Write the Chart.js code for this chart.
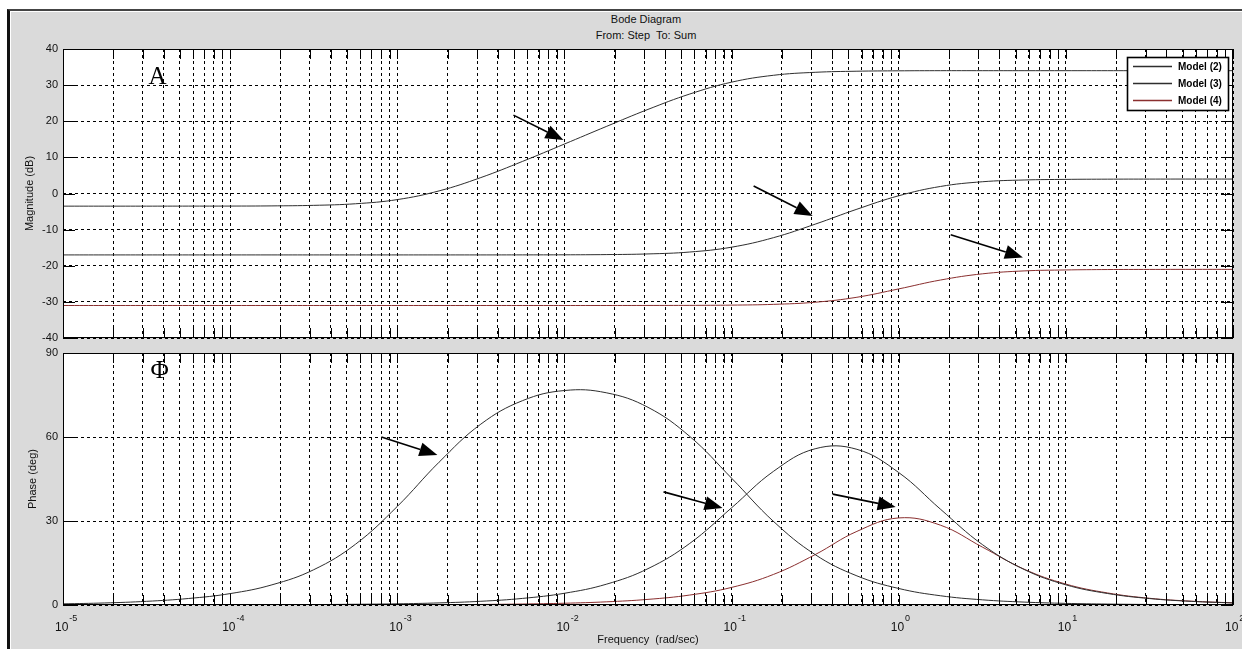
<!DOCTYPE html>
<html>
<head>
<meta charset="utf-8">
<script src="https://cdn.jsdelivr.net/npm/chart.js@4.4.1/dist/chart.umd.min.js"></script>
<style>
  html, body { margin: 0; padding: 0; background: #fff; }
  #wrap { position: relative; width: 1242px; height: 649px; overflow: hidden; }
  #frame { position: absolute; left: 7px; top: 9px; width: 1240px; height: 645px;
           background: #dadada; border-left: 3px solid #111; border-top: 2px solid #444;
           box-shadow: inset 1px 1px 0 #fff; }
  canvas { position: absolute; left: 0; top: 0; }
  .ttl { position: absolute; left: 546px; width: 200px; text-align: center;
         font: 11px "Liberation Sans", Arial, sans-serif; color: #111; }
</style>
</head>
<body>
<div id="wrap">
  <div id="frame"></div>
  <div class="ttl" style="top:13px">Bode Diagram</div>
  <div class="ttl" style="top:29px">From: Step&nbsp; To: Sum</div>
  <canvas id="magChart" width="1242" height="649"></canvas>
  <canvas id="phaseChart" width="1242" height="649"></canvas>
</div>
<script>
// frequency grid, as powers of ten (rad/sec)
const freqExp = [-5, -4.75, -4.5, -4.25, -4, -3.75, -3.5, -3.25, -3, -2.75, -2.5, -2.25, -2, -1.75, -1.5,
                 -1.25, -1, -0.75, -0.5, -0.25, 0, 0.25, 0.5, 0.75, 1, 1.25, 1.5, 1.75, 2];

const models = ['Model (2)', 'Model (3)', 'Model (4)'];

// magnitude (dB)
const mag2 = [-3.5, -3.5, -3.5, -3.49, -3.48, -3.43, -3.28, -2.84, -1.69, 0.72, 4.41, 8.9, 13.69, 18.54, 23.28,
              27.54, 30.82, 32.72, 33.55, 33.85, 33.96, 34, 34, 34, 34, 34, 34, 34, 34];
const mag3 = [-17, -17, -17, -17, -17, -17, -17, -17, -17, -17, -17, -16.99, -16.97, -16.91, -16.73,
              -16.2, -14.86, -12.24, -8.49, -4.35, -0.63, 1.95, 3.25, 3.74, 3.91, 3.97, 3.99, 4, 4];
const mag4 = [-31, -31, -31, -31, -31, -31, -31, -31, -31, -31, -31, -31, -31, -31, -30.99,
              -30.97, -30.9, -30.69, -30.1, -28.72, -26.41, -23.95, -22.24, -21.43, -21.16, -21.05, -21.02, -21, -21];

// phase (deg)
const phase2 = [0.41, 0.73, 1.31, 2.32, 4.07, 7.2, 12.6, 21.7, 35.2, 51.0, 64.6, 73.0, 76.6, 75.8, 70.6,
                60.2, 45.3, 29.9, 18.0, 10.4, 5.9, 3.3, 1.85, 1.04, 0.58, 0.33, 0.19, 0.1, 0.06];
const phase3 = [0, 0.01, 0.02, 0.03, 0.05, 0.08, 0.15, 0.26, 0.42, 0.75, 1.33, 2.36, 4.19, 7.41, 12.98,
                22.0, 34.7, 47.7, 55.8, 55.6, 47.3, 34.2, 21.6, 12.7, 7.2, 4.1, 2.3, 1.3, 0.73];
const phase4 = [0, 0, 0, 0.01, 0.01, 0.02, 0.03, 0.04, 0.06, 0.11, 0.2, 0.35, 0.63, 1.13, 2.01,
                3.56, 6.28, 10.9, 18.0, 26.3, 31.1, 28.5, 20.7, 12.8, 7.47, 4.3, 2.4, 1.37, 0.77];

const decades = [-5, -4, -3, -2, -1, 0, 1, 2];

// arrows: [from exp, from value, to exp, to value]
const magArrows = [[-2.305, 21.7, -2.006, 14.8], [-0.868, 2.1, -0.515, -6.2], [0.311, -11.4, 0.743, -17.7]];
const phaseArrows = [[-3.095, 60, -2.76, 53.6], [-1.407, 40.4, -1.054, 34.6], [-0.395, 39.6, -0.018, 35]];

const lineColors = ['#2e2e2e', '#2e2e2e', '#8a2f2f'];
const FONT = '"Liberation Sans", Arial, sans-serif';

function series(vals) {
  return freqExp.map((e, i) => ({ x: Math.pow(10, e), y: vals[i] }));
}

function makeSets(a, b, c) {
  return [a, b, c].map((v, i) => ({
    label: models[i], data: series(v), borderColor: lineColors[i], borderWidth: 1,
    pointRadius: 0, fill: false, tension: 0.4
  }));
}

function logTicks(scale) {
  const t = [];
  for (let k = -5; k < 2; k++) for (let m = 1; m < 10; m++) t.push({ value: m * Math.pow(10, k) });
  t.push({ value: 100 });
  scale.ticks = t;
}

function drawArrow(ctx, x0, y0, x1, y1) {
  const ang = Math.atan2(y1 - y0, x1 - x0), len = 18, hw = 7;
  const bx = x1 - len * Math.cos(ang), by = y1 - len * Math.sin(ang);
  ctx.strokeStyle = '#000'; ctx.fillStyle = '#000'; ctx.lineWidth = 1.6;
  ctx.beginPath(); ctx.moveTo(x0, y0); ctx.lineTo(bx, by); ctx.stroke();
  ctx.beginPath();
  ctx.moveTo(x1, y1);
  ctx.lineTo(bx + hw * Math.sin(ang), by - hw * Math.cos(ang));
  ctx.lineTo(bx - hw * Math.sin(ang), by + hw * Math.cos(ang));
  ctx.closePath(); ctx.fill();
}

const boxPlugin = {
  id: 'box',
  beforeDraw(chart) {
    const a = chart.chartArea, ctx = chart.ctx;
    ctx.save(); ctx.fillStyle = '#fff';
    ctx.fillRect(a.left, a.top, a.right - a.left, a.bottom - a.top);
    ctx.restore();
  },
  afterDraw(chart, args, opts) {
    const a = chart.chartArea, ctx = chart.ctx, xs = chart.scales.x, ys = chart.scales.y;
    ctx.save();
    ctx.strokeStyle = '#000'; ctx.lineWidth = 1;
    // inner tick marks
    ctx.beginPath();
    ys.ticks.forEach(t => {
      const y = Math.round(ys.getPixelForValue(t.value)) + 0.5;
      ctx.moveTo(a.left, y); ctx.lineTo(a.left + 12, y);
      ctx.moveTo(a.right, y); ctx.lineTo(a.right - 12, y);
    });
    xs.ticks.forEach(t => {
      const x = Math.round(xs.getPixelForValue(t.value)) + 0.5;
      ctx.moveTo(x, a.top); ctx.lineTo(x, a.top + 10);
      ctx.moveTo(x, a.bottom); ctx.lineTo(x, a.bottom - 10);
    });
    ctx.stroke();
    ctx.strokeRect(a.left + 0.5, a.top + 0.5, a.right - a.left - 1, a.bottom - a.top - 1);

    // arrows
    opts.arrows.forEach(r => drawArrow(ctx,
      xs.getPixelForValue(Math.pow(10, r[0])), ys.getPixelForValue(r[1]),
      xs.getPixelForValue(Math.pow(10, r[2])), ys.getPixelForValue(r[3])));

    // panel letter
    ctx.fillStyle = '#000';
    ctx.font = '25px "Liberation Serif", "Times New Roman", serif';
    ctx.textAlign = 'center'; ctx.textBaseline = 'alphabetic';
    ctx.fillText(opts.letter[0], xs.getPixelForValue(Math.pow(10, opts.letter[1])), ys.getPixelForValue(opts.letter[2]));

    // legend
    if (opts.legend) {
      const w = 102, h = 54, lx = a.right - 4 - w, ly = a.top + 8;
      ctx.fillStyle = '#fff'; ctx.fillRect(lx, ly, w, h);
      ctx.strokeRect(lx + 0.5, ly + 0.5, w - 1, h - 1);
      ctx.font = 'bold 10px ' + FONT; ctx.textAlign = 'left'; ctx.textBaseline = 'middle';
      chart.data.datasets.forEach((d, i) => {
        const y = ly + 9.5 + i * 17;
        ctx.strokeStyle = d.borderColor;
        ctx.beginPath(); ctx.moveTo(lx + 6, y); ctx.lineTo(lx + 45, y); ctx.stroke();
        ctx.fillStyle = '#000'; ctx.fillText(d.label, lx + 51, y + 1);
      });
    }

    // decade labels with raised exponent
    if (opts.xLabels) {
      ctx.fillStyle = '#111'; ctx.textAlign = 'left'; ctx.textBaseline = 'alphabetic';
      decades.forEach(e => {
        const x = xs.getPixelForValue(Math.pow(10, e));
        ctx.font = '12px ' + FONT;
        ctx.fillText('10', x - 8, a.bottom + 26);
        const w10 = ctx.measureText('10').width;
        ctx.font = '9px ' + FONT;
        ctx.fillText(String(e), x - 7 + w10, a.bottom + 16);
      });
    }
    ctx.restore();
  }
};

function xAxis(height, title) {
  return {
    type: 'logarithmic', min: 1e-5, max: 100,
    afterBuildTicks: logTicks,
    afterFit: s => { s.height = height; },
    ticks: { display: false },
    grid: { color: '#000', lineWidth: 1, drawTicks: false },
    border: { display: false, dash: [3, 3] },
    title: title ? { display: true, text: title, color: '#111', font: { family: FONT, size: 11 }, padding: { top: 0, bottom: 2 } }
                 : { display: false }
  };
}

function yAxis(min, max, step, title, pad) {
  return {
    min: min, max: max,
    afterFit: s => { s.width = 63; },
    ticks: { stepSize: step, padding: 5, color: '#111', font: { family: FONT, size: 11 } },
    grid: { color: '#000', lineWidth: 1, drawTicks: false },
    border: { display: false, dash: [3, 3] },
    title: { display: true, text: title, color: '#111', font: { family: FONT, size: 11 }, padding: { top: pad, bottom: 0 } }
  };
}

new Chart(document.getElementById('magChart'), {
  type: 'line',
  data: { datasets: makeSets(mag2, mag3, mag4) },
  options: {
    responsive: false, animation: false, devicePixelRatio: 1,
    layout: { padding: { top: 49, right: 9, bottom: 311, left: 0 } },
    plugins: {
      legend: { display: false }, tooltip: { enabled: false },
      box: { arrows: magArrows, letter: ['A', -4.434, 30.3], legend: true, xLabels: false }
    },
    scales: { x: xAxis(0, null), y: yAxis(-40, 40, 10, 'Magnitude (dB)', 23) }
  },
  plugins: [boxPlugin]
});

new Chart(document.getElementById('phaseChart'), {
  type: 'line',
  data: { datasets: makeSets(phase2, phase3, phase4) },
  options: {
    responsive: false, animation: false, devicePixelRatio: 1,
    layout: { padding: { top: 353, right: 9, bottom: 0, left: 0 } },
    plugins: {
      legend: { display: false }, tooltip: { enabled: false },
      box: { arrows: phaseArrows, letter: ['\u03A6', -4.422, 81.1], legend: false, xLabels: true }
    },
    scales: { x: xAxis(44, 'Frequency  (rad/sec)'), y: yAxis(0, 90, 30, 'Phase (deg)', 26) }
  },
  plugins: [boxPlugin]
});
</script>
</body>
</html>
